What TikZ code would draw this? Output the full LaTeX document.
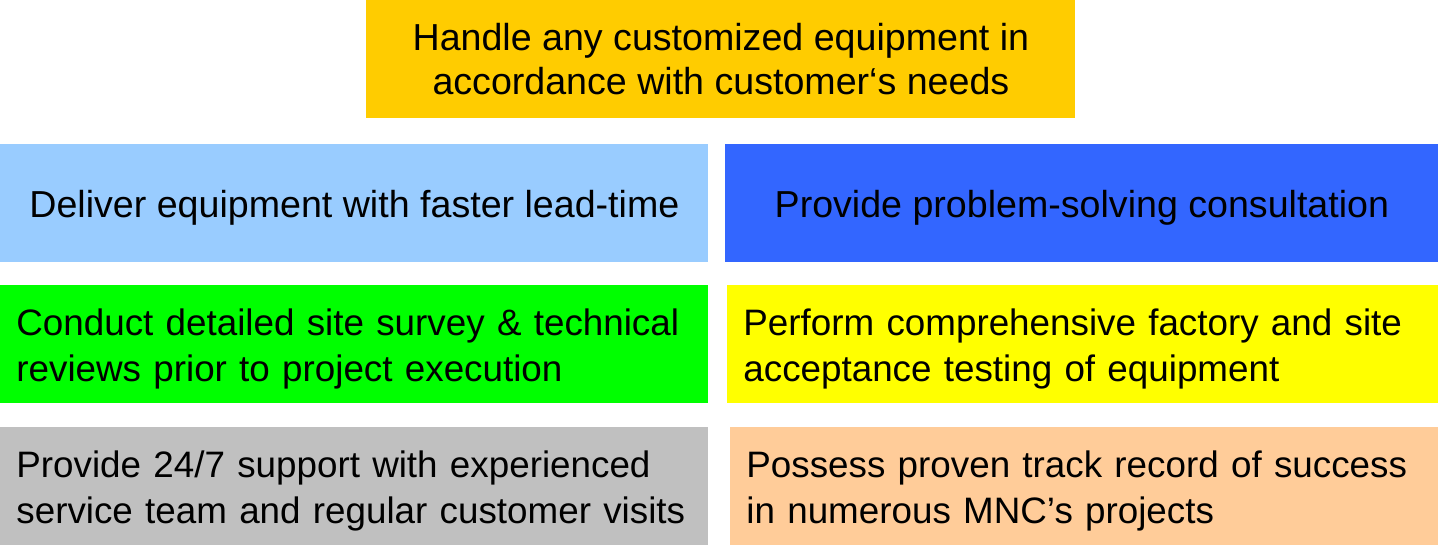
\documentclass[tikz,border=0pt]{standalone}
\usepackage{fontspec}
\setmainfont{Liberation Sans}
\usepackage{tikz}
\usetikzlibrary{positioning}
\definecolor{topgold}{HTML}{FFCC00}
\definecolor{paleblue}{HTML}{99CCFF}
\definecolor{deepblue}{HTML}{3366FF}
\definecolor{brightgreen}{HTML}{00FF00}
\definecolor{brightyellow}{HTML}{FFFF00}
\definecolor{lightgray}{HTML}{C0C0C0}
\definecolor{peach}{HTML}{FFCC99}
\newcommand{\topstrut}{\rule{0pt}{18pt}}
\tikzset{
  cbox/.style = {anchor=north west, inner sep=0pt, align=center,
                 font=\fontsize{18.8}{22}\selectfont},
  lbox/.style = {anchor=north west, inner xsep=8pt, inner ysep=0pt,
                 align=left, font=\fontsize{18.4}{22.7}\selectfont}
}

\begin{document}
\begin{tikzpicture}[x=0.5pt, y=-0.5pt]
  \useasboundingbox (0,0) rectangle (1438,545);
  % top row
  \node[cbox, fill=topgold, minimum width=354.5pt, minimum height=59pt] (custom) at (366,0)
    {Handle any customized equipment in\\accordance with customer‘s needs};
  % second row
  \node[cbox, text depth=0pt, fill=paleblue, minimum width=354pt, minimum height=59pt] (deliver) at (0,144)
    {Deliver equipment with faster lead-time};
  \node[cbox, text depth=0pt, fill=deepblue, minimum width=356.5pt, minimum height=59pt] (consult) at (725,144)
    {Provide problem-solving consultation};
  % third row
  \node[lbox, fill=brightgreen, text width=338pt, minimum height=59pt] (survey) at (0,285)
    {\topstrut\mbox{Conduct detailed site survey \& technical}\\\mbox{reviews prior to project execution}};
  \node[lbox, fill=brightyellow, text width=339.5pt, minimum height=59pt] (testing) at (727,285)
    {\topstrut\mbox{Perform comprehensive factory and site}\\\mbox{acceptance testing of equipment}};
  % bottom row
  \node[lbox, fill=lightgray, text width=338pt, minimum height=59pt] (support) at (0,427)
    {\topstrut\mbox{Provide 24/7 support with experienced}\\\mbox{service team and regular customer visits}};
  \node[lbox, fill=peach, text width=338pt, minimum height=59pt] (record) at (730,427)
    {\topstrut\mbox{Possess proven track record of success}\\\mbox{in numerous MNC’s projects}};
\end{tikzpicture}
\end{document}
